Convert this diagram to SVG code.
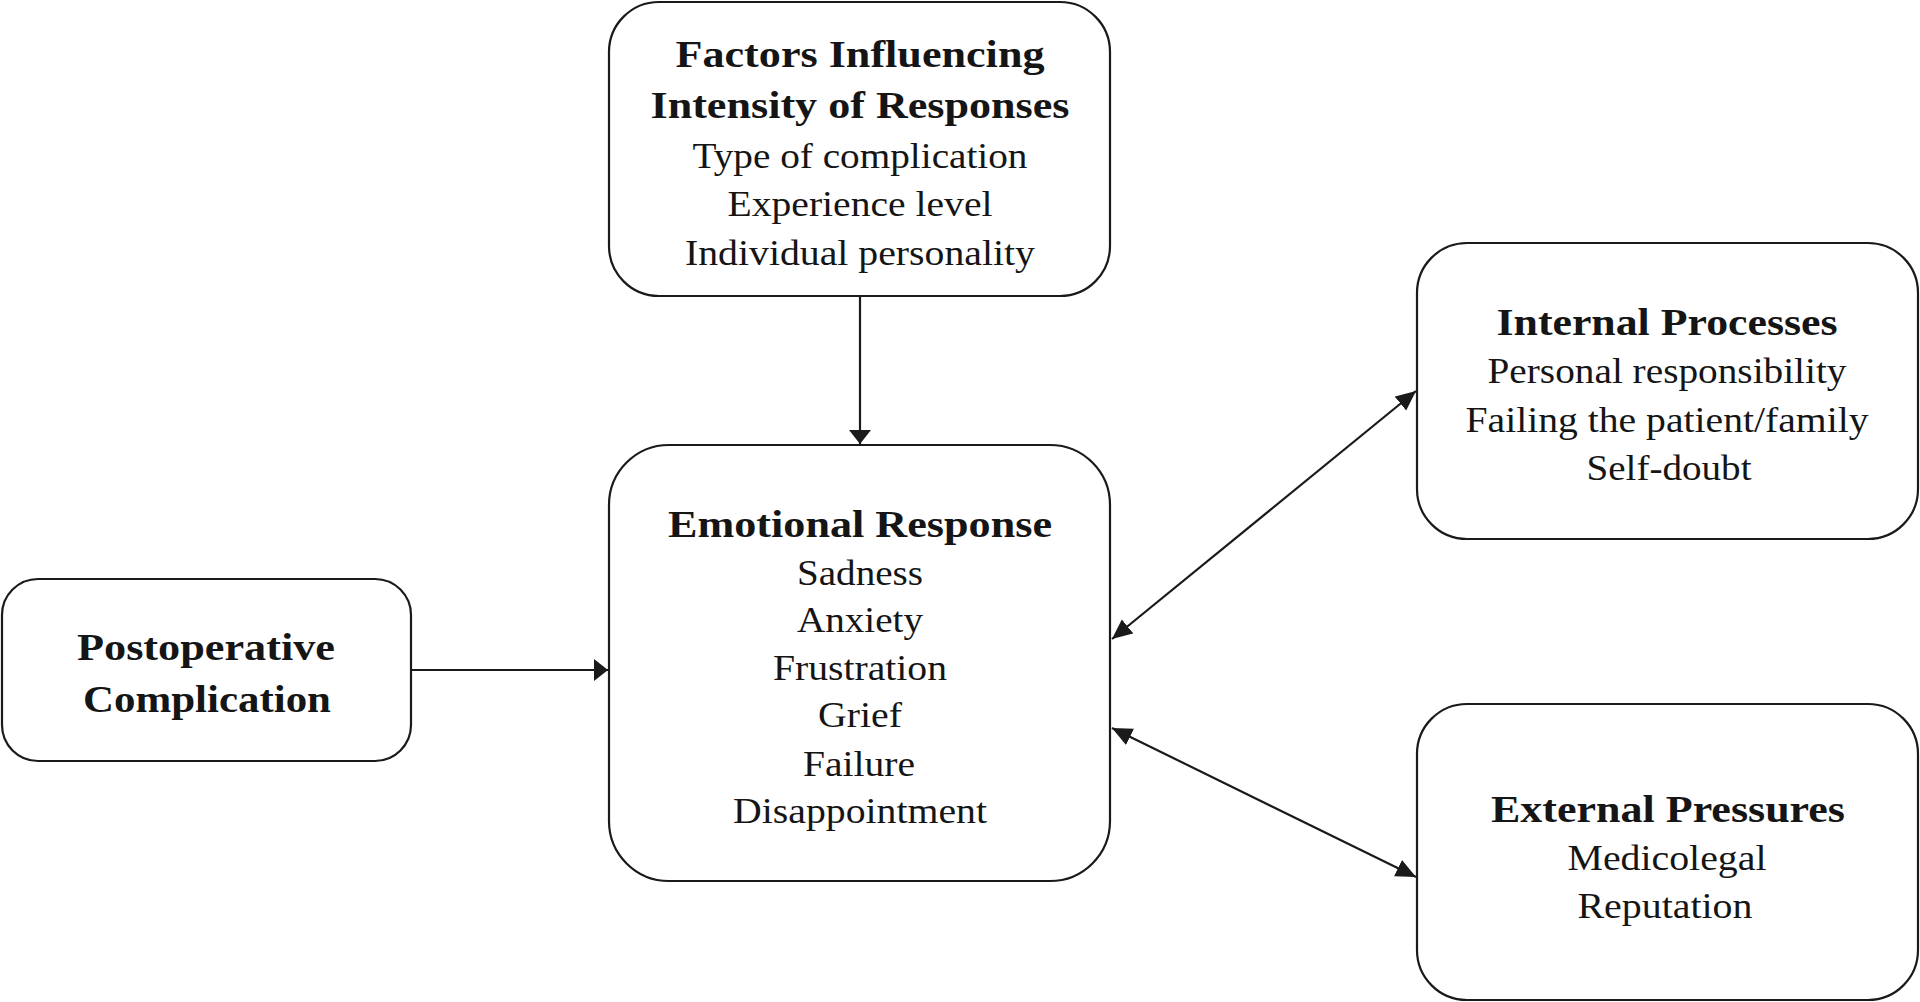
<svg xmlns="http://www.w3.org/2000/svg" width="1920" height="1002" viewBox="0 0 1920 1002">
<style>
.box{fill:#fff;stroke:#1a1a1a;stroke-width:2.2}
.t{font-family:"Liberation Serif","Times New Roman",serif;fill:#151515;text-anchor:middle}
.b{font-weight:bold;font-size:38px}
.r{font-size:35px}
.edge{stroke:#1a1a1a;stroke-width:2.2;fill:none}
</style>
<defs>
<marker id="ah" markerUnits="userSpaceOnUse" markerWidth="16" markerHeight="22" refX="14" refY="11" orient="auto-start-reverse">
<path d="M0,0 L14,11 L0,22 Z" fill="#1a1a1a"/>
</marker>
<marker id="ahd" markerUnits="userSpaceOnUse" markerWidth="22" markerHeight="22" refX="20" refY="10" orient="auto-start-reverse">
<path d="M0,1 L20,10 L0,19 Z" fill="#1a1a1a"/>
</marker>
</defs>
<rect width="1920" height="1002" fill="#fff"/>
<g id="connectors">
<line class="edge" x1="860" y1="296" x2="860" y2="444" marker-end="url(#ah)"/>
<line class="edge" x1="411" y1="670" x2="608" y2="670" marker-end="url(#ah)"/>
<line class="edge" x1="1112" y1="639" x2="1416" y2="391" marker-start="url(#ahd)" marker-end="url(#ahd)"/>
<line class="edge" x1="1112" y1="728" x2="1416" y2="877" marker-start="url(#ahd)" marker-end="url(#ahd)"/>
</g>
<g id="factors">
<rect class="box" x="609" y="2" width="501" height="294" rx="50" ry="50"/>
<text class="t b" x="860" y="67" textLength="369" lengthAdjust="spacingAndGlyphs">Factors Influencing</text>
<text class="t b" x="860" y="118" textLength="419" lengthAdjust="spacingAndGlyphs">Intensity of Responses</text>
<text class="t r" x="860" y="168" textLength="335" lengthAdjust="spacingAndGlyphs">Type of complication</text>
<text class="t r" x="860" y="216" textLength="265" lengthAdjust="spacingAndGlyphs">Experience level</text>
<text class="t r" x="860" y="265" textLength="350" lengthAdjust="spacingAndGlyphs">Individual personality</text>
</g>
<g id="postoperative">
<rect class="box" x="2" y="579" width="409" height="182" rx="36" ry="36"/>
<text class="t b" x="206" y="660" textLength="258" lengthAdjust="spacingAndGlyphs">Postoperative</text>
<text class="t b" x="207" y="712" textLength="248" lengthAdjust="spacingAndGlyphs">Complication</text>
</g>
<g id="emotional">
<rect class="box" x="609" y="445" width="501" height="436" rx="60" ry="60"/>
<text class="t b" x="860" y="537" textLength="384" lengthAdjust="spacingAndGlyphs">Emotional Response</text>
<text class="t r" x="860" y="585" textLength="126" lengthAdjust="spacingAndGlyphs">Sadness</text>
<text class="t r" x="860" y="632" textLength="126" lengthAdjust="spacingAndGlyphs">Anxiety</text>
<text class="t r" x="860" y="680" textLength="174" lengthAdjust="spacingAndGlyphs">Frustration</text>
<text class="t r" x="860" y="727" textLength="84" lengthAdjust="spacingAndGlyphs">Grief</text>
<text class="t r" x="859" y="776" textLength="112" lengthAdjust="spacingAndGlyphs">Failure</text>
<text class="t r" x="860" y="823" textLength="254" lengthAdjust="spacingAndGlyphs">Disappointment</text>
</g>
<g id="internal">
<rect class="box" x="1417" y="243" width="501" height="296" rx="50" ry="50"/>
<text class="t b" x="1667" y="335" textLength="341" lengthAdjust="spacingAndGlyphs">Internal Processes</text>
<text class="t r" x="1667" y="383" textLength="359" lengthAdjust="spacingAndGlyphs">Personal responsibility</text>
<text class="t r" x="1667" y="432" textLength="403" lengthAdjust="spacingAndGlyphs">Failing the patient/family</text>
<text class="t r" x="1669" y="480" textLength="165" lengthAdjust="spacingAndGlyphs">Self-doubt</text>
</g>
<g id="external">
<rect class="box" x="1417" y="704" width="501" height="296" rx="50" ry="50"/>
<text class="t b" x="1668" y="822" textLength="354" lengthAdjust="spacingAndGlyphs">External Pressures</text>
<text class="t r" x="1667" y="870" textLength="199" lengthAdjust="spacingAndGlyphs">Medicolegal</text>
<text class="t r" x="1665" y="918" textLength="175" lengthAdjust="spacingAndGlyphs">Reputation</text>
</g>
</svg>
